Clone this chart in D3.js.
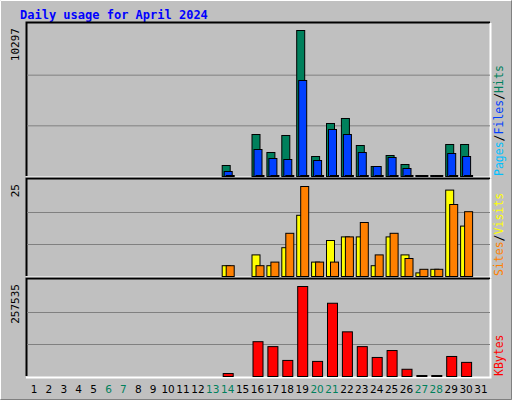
<!DOCTYPE html>
<html><head><meta charset="utf-8">
<script src="https://cdn.jsdelivr.net/npm/d3@7"></script>
<style>body{margin:0;background:#fff}</style>
</head><body><svg width="512" height="400"></svg>
<script>
// Data (days 1..31)
const days = d3.range(1, 32);
const weekends = [6, 7, 13, 14, 20, 21, 27, 28];
const hits   = [0,0,0,0,0,0,0,0,0,0,0,0,0,776,0,2962,1693,2892,10297,1410,3738,4091,2186,705,1481,846,0,0,2257,2257,0];
const files  = [0,0,0,0,0,0,0,0,0,0,0,0,0,353,0,1904,1270,1199,6771,1128,3315,2962,1693,705,1340,564,0,0,1622,1410,0];
const pages  = [0,0,0,0,0,0,0,0,0,0,0,0,0,0,0,0,0,0,0,0,0,0,0,0,0,0,0,0,0,0,0];
const visits = [0,0,0,0,0,0,0,0,0,0,0,0,0,3,0,6,3,8,17,4,10,11,11,3,11,6,1,2,24,14,0];
const sites  = [0,0,0,0,0,0,0,0,0,0,0,0,0,3,0,3,4,12,25,4,4,11,15,6,12,5,2,2,20,18,0];
const kbytes = [0,0,0,0,0,0,0,0,0,0,0,0,0,8460,0,99600,85500,46000,257535,43200,209600,127800,85500,54500,74300,20700,0,0,57300,40400,0];
const shown = days.map((d, i) => hits[i] > 0 || visits[i] > 0 || kbytes[i] > 0 || d === 27 || d === 28);

const svg = d3.select('svg');
const font = 'DejaVu Sans Mono, monospace';

// Background and bevel
svg.append('rect').attr('width', 512).attr('height', 400).attr('fill', '#c0c0c0');
svg.append('path').attr('d', 'M0.5,399.5V0.5H511.5').attr('stroke', '#fff').attr('fill', 'none');
svg.append('path').attr('d', 'M511.5,0.5V399.5H0.5').attr('stroke', '#808080').attr('fill', 'none');

svg.append('text').attr('x', 20).attr('y', 19).text('Daily usage for April 2024')
    .attr('font-family', font).attr('font-weight', 'bold').attr('font-size', 12).attr('fill', '#0000ff');

const x = d3.scaleLinear().domain([1, 31]).range([34, 481]);

// Panels
const panels = [
    {top: 24, bottom: 176, max: 10297, label: '10297',
     series: [{v: hits, c: '#00805c', o: -6}, {v: files, c: '#0040ff', o: -4}, {v: pages, c: '#00c0ff', o: -2}],
     legend: [['Pages', '#00c0ff'], ['Files', '#0040ff'], ['Hits', '#00805c']], ly: 176},
    {top: 180, bottom: 276, max: 25, label: '25',
     series: [{v: visits, c: '#ffff00', o: -6}, {v: sites, c: '#ff8000', o: -2}],
     legend: [['Sites', '#ff8000'], ['Visits', '#ffff00']], ly: 276},
    {top: 280, bottom: 376, max: 257535, label: '257535',
     series: [{v: kbytes, c: '#ff0000', o: -5, w: 10}],
     legend: [['KBytes', '#ff0000']], ly: 376}
];

panels.forEach(p => {
    const y = d3.scaleLinear().domain([0, p.max]).range([p.bottom, p.top + 6]);
    const g = svg.append('g');
    // inset frame
    g.append('path').attr('d', `M26.5,${p.bottom}V${p.top - 1.5}H490`).attr('stroke', '#000').attr('fill', 'none').attr('stroke-width', 2);
    g.append('path').attr('d', `M26,${p.bottom + 1.5}H490.5V${p.top - 1}`).attr('stroke', '#fff').attr('fill', 'none').attr('stroke-width', 2);
    // gridlines at thirds
    const h = p.bottom - p.top;
    [1, 2].forEach(k => g.append('line').attr('x1', 27).attr('x2', 490)
        .attr('y1', p.top + h * k / 3 + 0.5).attr('y2', p.top + h * k / 3 + 0.5).attr('stroke', '#808080'));

    p.series.forEach(s => {
        g.selectAll(null).data(days.filter((d, i) => shown[i])).enter().append('rect')
            .attr('x', d => x(d) + s.o + 0.5)
            .attr('width', s.w || 8)
            .attr('y', d => Math.min(y(s.v[d - 1]), p.bottom - 1) + 0.5)
            .attr('height', d => Math.max(p.bottom - y(s.v[d - 1]), 1))
            .attr('fill', s.c).attr('stroke', '#000');
    });

    svg.append('text').text(p.label)
        .attr('transform', `translate(19,${p.top + 4}) rotate(-90)`)
        .attr('text-anchor', 'end').attr('font-family', font).attr('font-size', 11);

    const t = svg.append('text').attr('transform', `translate(503,${p.ly}) rotate(-90)`)
        .attr('font-family', font).attr('font-size', 11.5);
    p.legend.forEach(([name, c], i) => {
        if (i > 0) t.append('tspan').text('/').attr('fill', '#000');
        t.append('tspan').text(name).attr('fill', c);
    });
});

// Day labels
svg.selectAll('.day').data(days).enter().append('text')
    .attr('x', d => x(d)).attr('y', 393).attr('text-anchor', 'middle')
    .attr('font-family', 'DejaVu Sans, sans-serif').attr('font-size', 10.5)
    .attr('fill', d => weekends.includes(d) ? '#00805c' : '#000')
    .text(d => d);
</script></body></html>
